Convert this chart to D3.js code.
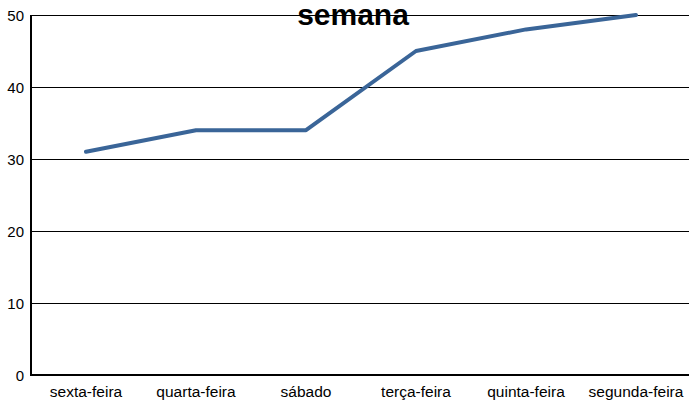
<!DOCTYPE html>
<html>
<head>
<meta charset="utf-8">
<script src="https://cdn.jsdelivr.net/npm/d3@7"></script>
<style>
  body { margin: 0; background: #fff; }
  text { font-family: "Liberation Sans", Arial, sans-serif; }
</style>
</head>
<body>
<div id="chart"></div>
<script>
var categories = ['sexta-feira', 'quarta-feira', 'sábado', 'terça-feira', 'quinta-feira', 'segunda-feira'];
var values = [31, 34, 34, 45, 48, 50];
var yTicks = [0, 10, 20, 30, 40, 50];
var title = 'semana';

var width = 689, height = 402;
var plotLeft = 31, plotTop = 15, plotRight = 691, plotBottom = 375;

var svg = d3.select('#chart').append('svg')
  .attr('width', width)
  .attr('height', height);

var x = d3.scalePoint()
  .domain(categories)
  .range([plotLeft, plotRight])
  .padding(0.5);

var y = d3.scaleLinear()
  .domain([0, 50])
  .range([plotBottom, plotTop]);

// gridlines
svg.append('g')
  .selectAll('line')
  .data(yTicks)
  .enter()
  .append('line')
  .attr('x1', plotLeft)
  .attr('x2', width)
  .attr('y1', function (d) { return y(d) + 0.5; })
  .attr('y2', function (d) { return y(d) + 0.5; })
  .attr('stroke', '#000')
  .attr('stroke-width', 1);

// y labels
svg.append('g')
  .selectAll('text')
  .data(yTicks)
  .enter()
  .append('text')
  .attr('x', 24)
  .attr('y', function (d) { return y(d) + 6; })
  .attr('text-anchor', 'end')
  .attr('font-size', 15)
  .text(function (d) { return d; });

// axes lines
svg.append('line')
  .attr('x1', plotLeft).attr('x2', plotLeft)
  .attr('y1', plotTop).attr('y2', plotBottom)
  .attr('stroke', '#000').attr('stroke-width', 2);
svg.append('line')
  .attr('x1', plotLeft - 1).attr('x2', width)
  .attr('y1', plotBottom).attr('y2', plotBottom)
  .attr('stroke', '#000').attr('stroke-width', 2);

// x labels
svg.append('g')
  .selectAll('text')
  .data(categories)
  .enter()
  .append('text')
  .attr('x', function (d) { return x(d); })
  .attr('y', 397)
  .attr('text-anchor', 'middle')
  .attr('font-size', 15.5)
  .text(function (d) { return d; });

// line
var line = d3.line()
  .x(function (d, i) { return x(categories[i]); })
  .y(function (d) { return y(d); });

svg.append('path')
  .datum(values)
  .attr('d', line)
  .attr('fill', 'none')
  .attr('stroke', '#3a6598')
  .attr('stroke-width', 4)
  .attr('stroke-linecap', 'round')
  .attr('stroke-linejoin', 'round');

// title
svg.append('text')
  .attr('x', 353)
  .attr('y', 25)
  .attr('text-anchor', 'middle')
  .attr('font-size', 30)
  .attr('font-weight', 'bold')
  .text(title);
</script>
</body>
</html>
